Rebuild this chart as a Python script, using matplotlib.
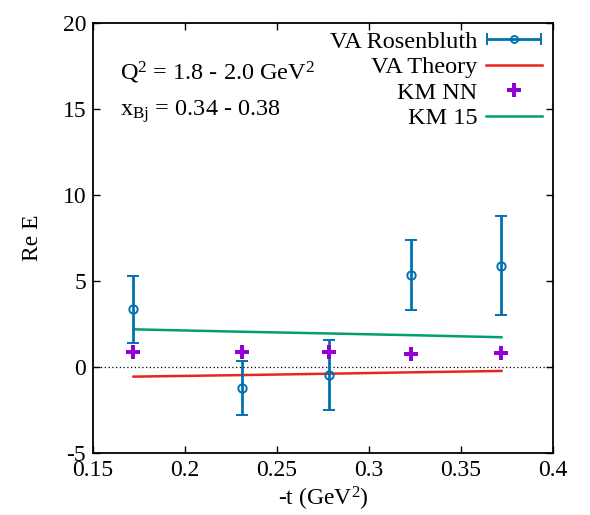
import matplotlib
matplotlib.use("Agg")
import matplotlib.pyplot as plt
from matplotlib.legend_handler import HandlerErrorbar
import numpy as np

plt.rcParams['font.family'] = ['Liberation Serif', 'DejaVu Serif']
plt.rcParams['mathtext.fontset'] = 'custom'
plt.rcParams['mathtext.rm'] = 'Liberation Serif'
plt.rcParams['mathtext.it'] = 'Liberation Serif'
plt.rcParams['axes.unicode_minus'] = False

# Data
t_vals = [0.172, 0.231, 0.278, 0.323, 0.372]
va_rosen = [3.35, -1.20, -0.47, 5.35, 5.89]
va_rosen_err = [1.95, 1.57, 2.05, 2.05, 2.88]
va_theory = [-0.56, -0.47, -0.39, -0.31, -0.23]
km_nn = [0.88, 0.86, 0.86, 0.78, 0.80]
km15 = [2.19, 2.05, 1.95, 1.85, 1.73]

xticks = [0.15, 0.2, 0.25, 0.3, 0.35, 0.4]
yticks = [-5, 0, 5, 10, 15, 20]

BLUE = '#0072b2'
RED = '#e8261c'
PURPLE = '#9400d3'
GREEN = '#009e73'

fig = plt.figure(figsize=(5.9, 5.15), dpi=100)
ax = fig.add_axes([93/590, 1-453/515, 460/590, 430/515])

ax.axhline(0, color='black', lw=0.9, ls=(0, (1, 2)), zorder=1)

ax.errorbar(t_vals, va_rosen, yerr=va_rosen_err, fmt='o', color=BLUE,
            mfc='none', mec=BLUE, ms=6, mew=1.4, elinewidth=2.0,
            capsize=4, capthick=2.0, zorder=4)
# legend proxy with horizontal bar (gnuplot style)
h_rosen = ax.errorbar([np.nan], [np.nan], xerr=[0.01], fmt='o', color=BLUE,
                      mfc='none', mec=BLUE, ms=5, mew=1.4, elinewidth=2.0,
                      capsize=4, capthick=2.0)
h_theory, = ax.plot(t_vals, va_theory, color=RED, lw=1.8, zorder=3)
h_nn, = ax.plot(t_vals, km_nn, 'P', color=PURPLE, ms=10.5, mew=0, ls='none', zorder=5)
h_15, = ax.plot(t_vals, km15, color=GREEN, lw=1.8, zorder=3)

ax.set_xlim(0.15, 0.4)
ax.set_ylim(-5, 20)
ax.set_xticks(xticks)
ax.set_xticklabels([f"{v:g}" for v in xticks])
ax.set_yticks(yticks)
ax.tick_params(direction='in', top=True, right=True, labelsize=17, length=5, width=1, pad=5)
for s in ax.spines.values():
    s.set_linewidth(1.3)

ax.set_xlabel('-t (GeV$^2$)', fontsize=17, labelpad=3)
ax.set_ylabel('Re E', fontsize=17, labelpad=14)

ax.text(0.058, 0.885, 'Q$^2$ = 1.8 - 2.0 GeV$^2$', transform=ax.transAxes, fontsize=17.5, va='center')
ax.text(0.058, 0.795, 'x$_{\\mathrm{Bj}}$ = 0.34 - 0.38', transform=ax.transAxes, fontsize=17.5, va='center')

leg = ax.legend([h_rosen, h_theory, h_nn, h_15],
                ['VA Rosenbluth', 'VA Theory', 'KM NN', 'KM 15'],
                loc='upper right', bbox_to_anchor=(1.0, 1.008), markerfirst=False, frameon=False,
                fontsize=17.5, handlelength=2.3, labelspacing=0.15, handletextpad=0.35,
                borderaxespad=0.05,
                handler_map={type(h_rosen): HandlerErrorbar(xerr_size=1.1)})
for txt in leg.get_texts():
    txt.set_ha('right')

fig.savefig('out.png', dpi=100)
